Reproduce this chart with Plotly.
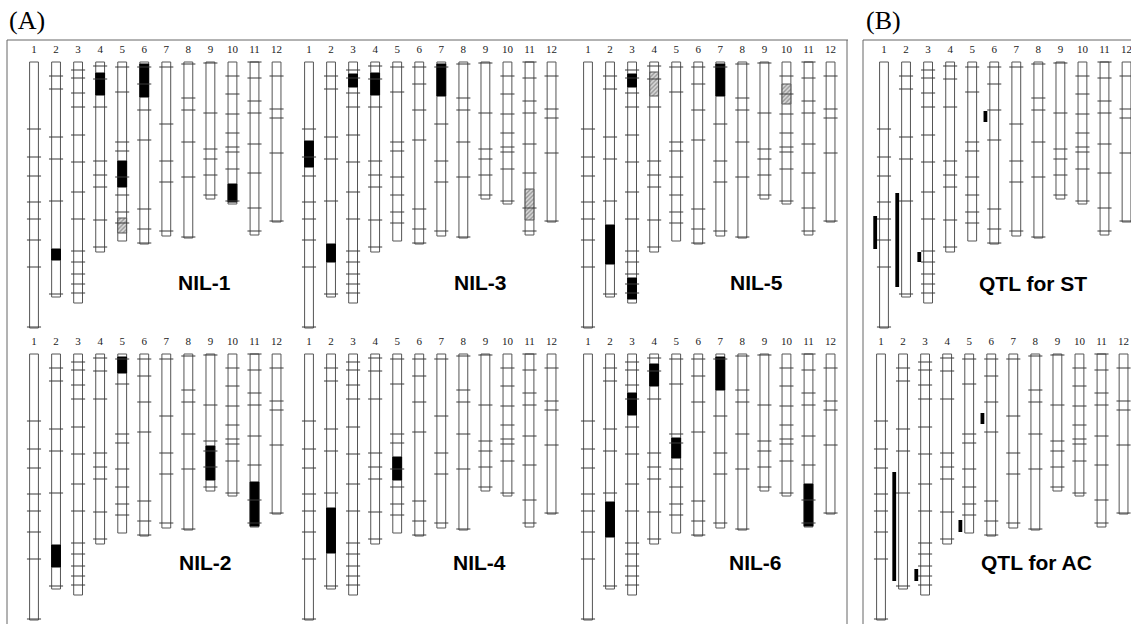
import plotly.graph_objects as go

# ---------------- data ----------------
chrom_names = [str(i) for i in range(1, 13)]
# map length of each chromosome (same scale as marker positions, from the top)
chrom_lengths = [266, 235, 241, 190, 179, 182, 174, 176, 137, 142, 173, 160]
# marker positions on each chromosome
marker_positions = [
    [67, 95, 114, 140, 157, 178, 205, 265],
    [14, 27, 75, 97, 139, 232],
    [8, 16, 31, 45, 73, 100, 130, 157, 189, 200, 212, 222, 231],
    [4, 17, 45, 99, 113, 125, 158, 185],
    [5, 30, 80, 89, 115, 133, 150, 161],
    [5, 22, 48, 78, 147, 167, 181],
    [5, 62, 99, 120, 169],
    [2, 36, 48, 80, 115, 175],
    [1, 51, 87, 97, 113, 133],
    [14, 32, 52, 71, 85, 90, 107, 139],
    [0, 16, 39, 51, 82, 111, 146, 169],
    [14, 47, 56, 91, 159],
]

# introgressed segments: (chromosome, start, end)
nil1_black = [(2, 187, 198), (4, 11, 33), (5, 99, 125), (6, 2, 35), (10, 122, 140)]
nil1_hatched = [(5, 156, 171)]
nil3_black = [(1, 79, 105), (2, 182, 200), (3, 12, 25), (4, 11, 33), (7, 2, 34)]
nil3_hatched = [(11, 127, 158)]
nil5_black = [(2, 163, 202), (3, 12, 25), (3, 216, 237), (7, 2, 34)]
nil5_hatched = [(4, 10, 34), (10, 22, 42)]
nil2_black = [(2, 191, 213), (5, 3, 19), (9, 92, 126), (11, 128, 172)]
nil4_black = [(2, 154, 199), (5, 103, 126)]
nil6_black = [(2, 148, 183), (3, 39, 61), (4, 10, 32), (5, 84, 104), (7, 3, 36), (11, 130, 172)]
# QTL intervals: (chromosome, start, end)
qtl_st = [(1, 154, 187), (2, 131, 225), (3, 190, 200), (6, 49, 60)]
qtl_ac = [(2, 118, 227), (3, 215, 227), (5, 166, 178), (6, 59, 70)]

panel_titles = ["NIL-1", "NIL-3", "NIL-5", "QTL for ST", "NIL-2", "NIL-4", "NIL-6", "QTL for AC"]

# ---------------- layout geometry ----------------
W, H = 1131, 624
S = 22.05            # px per chromosome slot
HALF_W = 0.2         # chromosome half width (x units)
MARK_HALF = 0.32     # marker half length (x units)
QTL_OFF = 0.4        # QTL bar offset left of chromosome

panels = [
    dict(title=panel_titles[0], row=0, c1=34, black=nil1_black, hatched=nil1_hatched, qtl=[], lab=(8.75, 220.5)),
    dict(title=panel_titles[1], row=0, c1=309, black=nil3_black, hatched=nil3_hatched, qtl=[], lab=(8.78, 220.5)),
    dict(title=panel_titles[2], row=0, c1=588, black=nil5_black, hatched=nil5_hatched, qtl=[], lab=(8.62, 220.5)),
    dict(title=panel_titles[3], row=0, c1=884, black=[], hatched=[], qtl=qtl_st, lab=(7.76, 221.5)),
    dict(title=panel_titles[4], row=1, c1=34, black=nil2_black, hatched=[], qtl=[], lab=(8.78, 208.5)),
    dict(title=panel_titles[5], row=1, c1=309, black=nil4_black, hatched=[], qtl=[], lab=(8.75, 208.5)),
    dict(title=panel_titles[6], row=1, c1=588, black=nil6_black, hatched=[], qtl=[], lab=(8.6, 208.5)),
    dict(title=panel_titles[7], row=1, c1=881, black=[], hatched=[], qtl=qtl_ac, lab=(8.03, 208.0)),
]

fig = go.Figure()
layout_axes = {}
annotations = []


def rect_path(segs):
    xs, ys = [], []
    for c, a, b in segs:
        xs += [c - HALF_W, c + HALF_W, c + HALF_W, c - HALF_W, c - HALF_W, None]
        ys += [a, a, b, b, a, None]
    return xs, ys


for k, p in enumerate(panels, start=1):
    xa = "x" if k == 1 else f"x{k}"
    ya = "y" if k == 1 else f"y{k}"
    left = p["c1"] - 0.5 * S
    right = min(p["c1"] + 11.5 * S, W)
    xmax = 0.5 + (right - left) / S
    top_px = 40 + 292 * p["row"]
    bot_px = top_px + 292
    layout_axes["xaxis" if k == 1 else f"xaxis{k}"] = dict(
        domain=[left / W, right / W], range=[0.5, xmax], visible=False,
        anchor=ya, fixedrange=True)
    layout_axes["yaxis" if k == 1 else f"yaxis{k}"] = dict(
        domain=[1 - bot_px / H, 1 - top_px / H], range=[270, -22], visible=False,
        anchor=xa, fixedrange=True)

    # chromosome bodies
    cx, cy = rect_path([(i + 1, 0, L) for i, L in enumerate(chrom_lengths)])
    fig.add_trace(go.Scatter(x=cx, y=cy, xaxis=xa, yaxis=ya, mode="lines", fill="toself",
                             fillcolor="white", line=dict(color="#555555", width=1),
                             hoverinfo="skip", showlegend=False))
    # black introgressed segments
    if p["black"]:
        bx, by = rect_path(p["black"])
        fig.add_trace(go.Scatter(x=bx, y=by, xaxis=xa, yaxis=ya, mode="lines", fill="toself",
                                 fillcolor="black", line=dict(color="black", width=1),
                                 hoverinfo="skip", showlegend=False))
    # hatched (heterozygous) segments
    if p["hatched"]:
        hx, hy = rect_path(p["hatched"])
        fig.add_trace(go.Scatter(x=hx, y=hy, xaxis=xa, yaxis=ya, mode="lines", fill="toself",
                                 fillcolor="white",
                                 fillpattern=dict(shape="/", fgcolor="#555555", bgcolor="#d8d8d8",
                                                  size=3, solidity=0.45),
                                 line=dict(color="#555555", width=1),
                                 hoverinfo="skip", showlegend=False))
    # markers
    mx, my = [], []
    for i, ms in enumerate(marker_positions):
        c = i + 1
        for m in ms:
            mx += [c - MARK_HALF, c + MARK_HALF, None]
            my += [m, m, None]
    fig.add_trace(go.Scatter(x=mx, y=my, xaxis=xa, yaxis=ya, mode="lines",
                             line=dict(color="#3a3a3a", width=1),
                             hoverinfo="skip", showlegend=False))
    # QTL bars
    if p["qtl"]:
        qx, qy = [], []
        for c, a, b in p["qtl"]:
            qx += [c - QTL_OFF, c - QTL_OFF, None]
            qy += [a, b, None]
        fig.add_trace(go.Scatter(x=qx, y=qy, xaxis=xa, yaxis=ya, mode="lines",
                                 line=dict(color="black", width=3.8),
                                 hoverinfo="skip", showlegend=False))
    # chromosome numbers
    fig.add_trace(go.Scatter(x=list(range(1, 13)), y=[-12] * 12, xaxis=xa, yaxis=ya,
                             mode="text", text=chrom_names, cliponaxis=False,
                             textfont=dict(family="Liberation Serif", size=11, color="#222222"),
                             hoverinfo="skip", showlegend=False))
    # panel title
    annotations.append(dict(x=p["lab"][0], y=p["lab"][1], xref=xa, yref=ya,
                            text="<b>" + p["title"] + "</b>",
                            showarrow=False, xanchor="center", yanchor="middle",
                            font=dict(family="Liberation Sans", size=21, color="black")))

annotations += [
    dict(x=7 / W, y=1 - 21 / H, xref="paper", yref="paper", text="(A)", showarrow=False,
         xanchor="left", yanchor="middle", font=dict(family="Liberation Serif", size=26, color="black")),
    dict(x=864 / W, y=1 - 21 / H, xref="paper", yref="paper", text="(B)", showarrow=False,
         xanchor="left", yanchor="middle", font=dict(family="Liberation Serif", size=26, color="black")),
]

frame = dict(type="line", xref="paper", yref="paper", line=dict(color="#666666", width=1))
shapes = [
    dict(frame, x0=7 / W, x1=7 / W, y0=0, y1=1 - 40 / H),
    dict(frame, x0=7 / W, x1=848 / W, y0=1 - 40 / H, y1=1 - 40 / H),
    dict(frame, x0=847 / W, x1=847 / W, y0=0, y1=1 - 40 / H),
    dict(frame, x0=863 / W, x1=863 / W, y0=0, y1=1 - 40 / H),
    dict(frame, x0=863 / W, x1=1, y0=1 - 40 / H, y1=1 - 40 / H),
]

fig.update_layout(width=W, height=H, margin=dict(l=0, r=0, t=0, b=0),
                  paper_bgcolor="white", plot_bgcolor="rgba(0,0,0,0)",
                  showlegend=False, annotations=annotations, shapes=shapes, **layout_axes)

fig.write_html("out.html", config={"displayModeBar": False},
               post_script="document.body.style.margin='0px';document.body.style.overflow='hidden';")
